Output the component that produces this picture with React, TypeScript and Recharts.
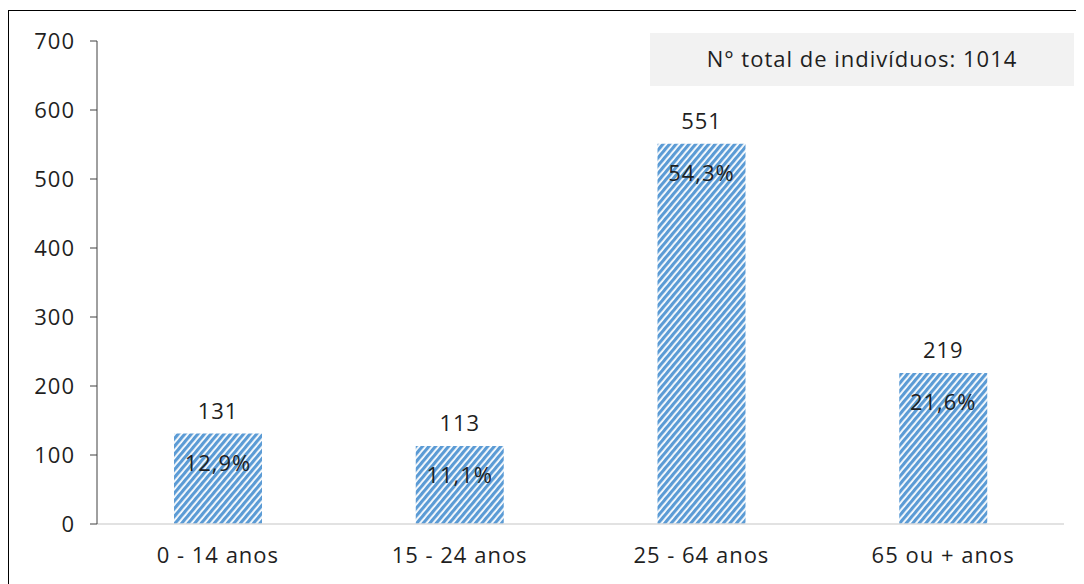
import { BarChart, Bar, XAxis, YAxis, LabelList } from 'recharts';

const categories = ['0 - 14 anos', '15 - 24 anos', '25 - 64 anos', '65 ou + anos'];
const counts = [131, 113, 551, 219];
const percentLabels = ['12,9%', '11,1%', '54,3%', '21,6%'];
const yTicks = [0, 100, 200, 300, 400, 500, 600, 700];
const totalLabel = 'N° total de indivíduos: 1014';

const data = categories.map((name, i) => ({ name, value: counts[i], pct: percentLabels[i] }));

const FONT = '"Open Sans", sans-serif';
const TEXT = '#1f1f1f';
const FS = 22;
const LS = 1;

const PercentLabel = (props: any) => {
  const { x, y, width, index } = props;
  return (
    <text
      x={x + width / 2}
      y={y + 28}
      textAnchor="middle"
      dominantBaseline="central"
      fontSize={FS}
      fill={TEXT}
      fontFamily={FONT}
      letterSpacing={LS}
    >
      {percentLabels[index]}
    </text>
  );
};

const App = () => {
  return (
    <div
      style={{
        position: 'relative',
        width: 1090,
        height: 590,
        marginTop: 2,
        border: '1px solid #000',
        fontFamily: FONT,
        boxSizing: 'border-box',
      }}
    >
      <div
        style={{
          position: 'absolute',
          left: 641,
          top: 22,
          width: 424,
          height: 53,
          paddingBottom: 3,
          boxSizing: 'border-box',
          background: '#f2f2f2',
          color: TEXT,
          fontSize: FS,
          letterSpacing: LS,
          display: 'flex',
          alignItems: 'center',
          justifyContent: 'center',
        }}
      >
        {totalLabel}
      </div>
      <BarChart width={1075} height={575} data={data} margin={{ top: 30, right: 20, left: 0, bottom: 22 }}>
        <defs>
          <pattern id="stripes" patternUnits="userSpaceOnUse" width="5" height="5" patternTransform="rotate(40)">
            <rect width="5" height="5" fill="#ffffff" />
            <rect width="3.2" height="5" fill="#5b9bd5" />
          </pattern>
        </defs>
        <XAxis
          dataKey="name"
          axisLine={{ stroke: '#d9d9d9', strokeWidth: 1.5 }}
          tickLine={false}
          tickMargin={17}
          height={40}
          tick={{ fontSize: FS, fill: TEXT, fontFamily: FONT, letterSpacing: LS }}
        />
        <YAxis
          domain={[0, 700]}
          ticks={yTicks}
          width={88}
          axisLine={{ stroke: '#404040' }}
          tickLine={{ stroke: '#404040' }}
          tickSize={7}
          tickMargin={15}
          tick={{ fontSize: FS, fill: TEXT, fontFamily: FONT, letterSpacing: LS }}
        />
        <Bar dataKey="value" fill="url(#stripes)" barSize={88} isAnimationActive={false}>
          <LabelList
            dataKey="value"
            position="top"
            offset={15}
            fontSize={FS}
            fill={TEXT}
            fontFamily={FONT}
            letterSpacing={LS}
          />
          <LabelList dataKey="pct" content={<PercentLabel />} />
        </Bar>
      </BarChart>
    </div>
  );
};

export default App;
